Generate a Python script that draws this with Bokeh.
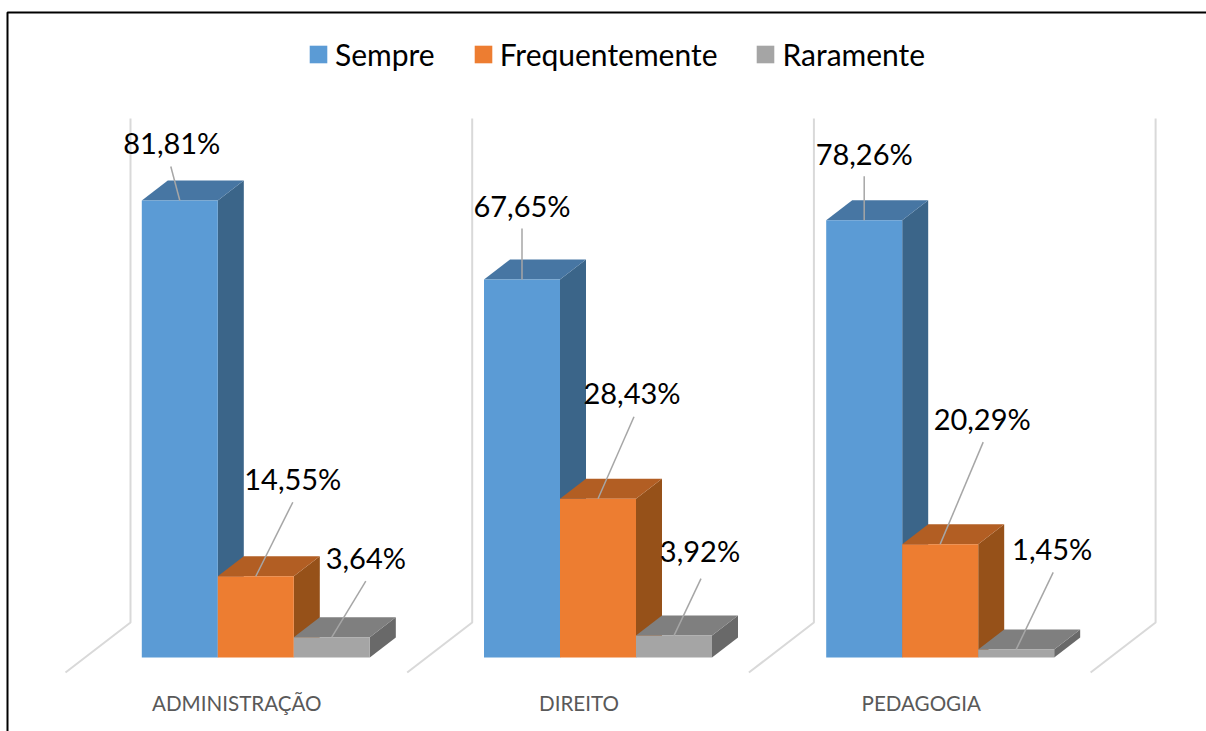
from bokeh.plotting import figure
from bokeh.models import BoxAnnotation, FixedTicker, Legend, LegendItem, LinearAxis, Range1d
from bokeh.core.properties import value
from bokeh.embed import file_html
from bokeh.resources import INLINE

categories = ["ADMINISTRAÇÃO", "DIREITO", "PEDAGOGIA"]
series_names = ["Sempre", "Frequentemente", "Raramente"]
sempre = [81.81, 67.65, 78.26]
frequentemente = [14.55, 28.43, 20.29]
raramente = [3.64, 3.92, 1.45]
series_values = [sempre, frequentemente, raramente]
front_colors = ["#5B9BD5", "#ED7D31", "#A5A5A5"]
top_colors = ["#4776A3", "#B25E23", "#7F7F7F"]
side_colors = ["#3B6589", "#965119", "#696969"]
# label centre relative to the bar's top-centre (px: right, up)
label_dx = [[-8, 37, 34], [0, 34, 26], [0, 42, 36]]
label_dy = [[58, 98, 80], [74, 106, 85], [67, 126, 101]]
# leader-line end relative to the bar's top-centre (px)
lead_dx = [[-9, 37, 34], [0, 36, 27], [0, 43, 37]]
lead_dy = [[34, 74, 56], [51, 82, 57], [44, 102, 77]]

W, H = 1206, 731
PX_X = 342.2           # px per category
PX_Y = 5.586           # px per percentage point
WALL_STEP = 341.7      # px between the walls of neighbouring categories
ORIGIN_X = 255.3       # canvas px of category 0 centre
ORIGIN_Y = 657         # canvas px of value 0
BAR_W = 76 / PX_X
DEPTH_X = 26 / PX_X
DEPTH_Y = 20 / PX_Y

p = figure(width=W, height=H, output_backend="svg", toolbar_location=None,
           x_axis_type=None, y_axis_type=None, min_border=0,
           outline_line_color=None, background_fill_color="white",
           x_range=Range1d(-ORIGIN_X / PX_X, (W - ORIGIN_X) / PX_X),
           y_range=Range1d((ORIGIN_Y - H) / PX_Y, ORIGIN_Y / PX_Y))
p.grid.visible = False

# 3-D walls and floor
wall_back_x, wall_front_x = -125.3 / PX_X, -190.3 / PX_X
floor_back_y, floor_front_y, wall_top_y = 35 / PX_Y, -15 / PX_Y, 539 / PX_Y
wall_step = WALL_STEP / PX_X
xs = [[i * wall_step + wall_front_x, i * wall_step + wall_back_x, i * wall_step + wall_back_x] for i in range(4)]
ys = [[floor_front_y, floor_back_y, wall_top_y] for _ in range(4)]
p.multi_line(xs, ys, line_color="#D9D9D9", line_width=2)

legend_items = []
for s, vals in enumerate(series_values):
    lefts = [i - 1.5 * BAR_W + s * BAR_W for i in range(3)]
    rights = [l + BAR_W for l in lefts]
    p.patches([[r, r + DEPTH_X, r + DEPTH_X, r] for r in rights],
              [[0, DEPTH_Y, v + DEPTH_Y, v] for v in vals],
              fill_color=side_colors[s], line_color=None)
    p.patches([[l, l + DEPTH_X, r + DEPTH_X, r] for l, r in zip(lefts, rights)],
              [[v, v + DEPTH_Y, v + DEPTH_Y, v] for v in vals],
              fill_color=top_colors[s], line_color=None)
    front = p.quad(left=lefts, right=rights, bottom=[0] * 3, top=vals,
                   fill_color=front_colors[s], line_color=None)
    legend_items.append(LegendItem(label=value(series_names[s]), renderers=[front]))

# leader lines and data labels
for s, vals in enumerate(series_values):
    cx = [i - BAR_W + s * BAR_W for i in range(3)]
    for i, v in enumerate(vals):
        p.line([cx[i], cx[i] + lead_dx[i][s] / PX_X], [v, v + lead_dy[i][s] / PX_Y],
               line_color="#A6A6A6", line_width=1.5)
    p.text(x=[cx[i] + label_dx[i][s] / PX_X for i in range(3)],
           y=[vals[i] + label_dy[i][s] / PX_Y for i in range(3)],
           text=[f"{v:.2f}".replace(".", ",") + "%" for v in vals],
           text_font=value("Lato"), text_font_size="29px", text_color="#000000",
           text_align="center", text_baseline="middle")

# category axis
axis = LinearAxis(ticker=FixedTicker(ticks=[i - 19 / PX_X for i in range(3)]),
                  major_label_overrides={i - 19 / PX_X: c for i, c in enumerate(categories)},
                  fixed_location=-29 / PX_Y,
                  axis_line_color=None, major_tick_line_color=None, minor_tick_line_color=None,
                  major_tick_out=0, major_tick_in=0, major_label_standoff=4,
                  major_label_text_font="Lato", major_label_text_font_size="20.6px",
                  major_label_text_color="#595959")
p.add_layout(axis, "below")

legend = Legend(items=legend_items, orientation="horizontal", location=(307, 659),
                glyph_width=22, glyph_height=22, label_standoff=6, spacing=37,
                label_text_font="Lato", label_text_font_size="30px", label_text_color="#000000",
                background_fill_alpha=0, border_line_color=None, margin=0, padding=4)
p.add_layout(legend, "center")

# chart border (left and top edges lie on the page; the rest is off-screen)
p.add_layout(BoxAnnotation(left=7, right=3000, top=12, bottom=3000,
                           left_units="canvas", right_units="canvas",
                           top_units="canvas", bottom_units="canvas",
                           fill_alpha=0, line_color="#000000", line_alpha=1, line_width=2))

open("out.html", "w").write(file_html(p, INLINE))
